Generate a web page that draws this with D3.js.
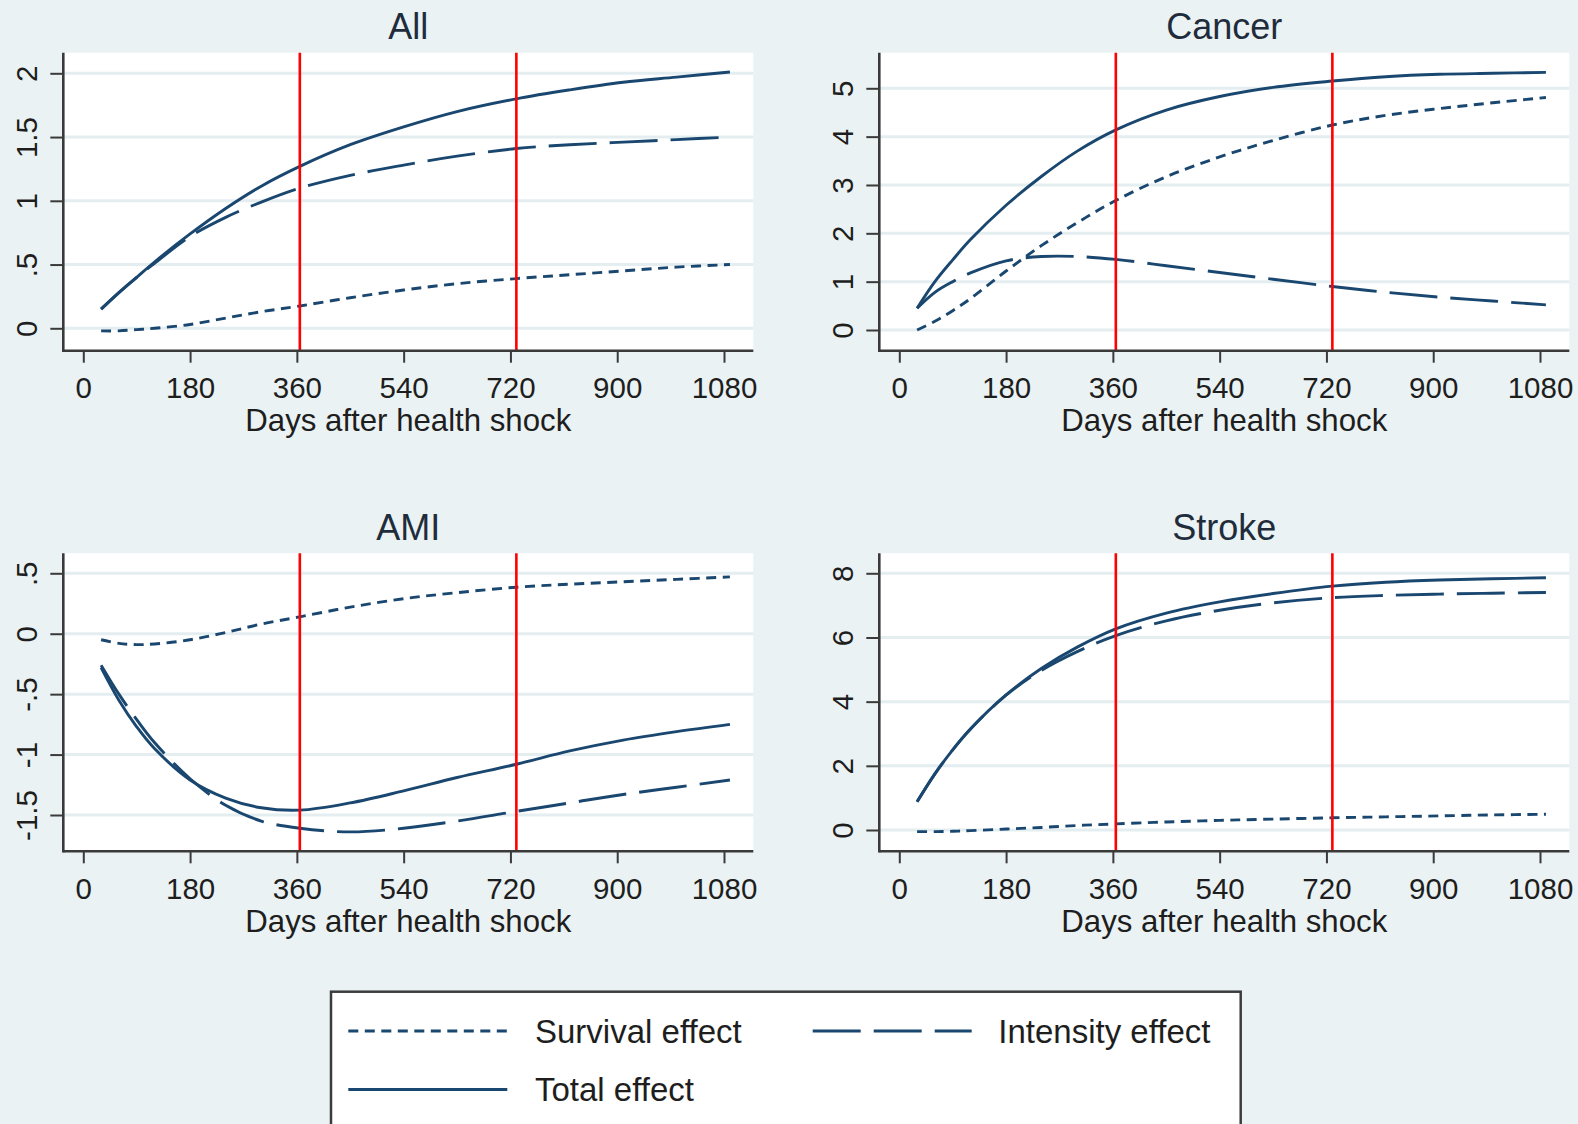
<!DOCTYPE html>
<html>
<head>
<meta charset="utf-8">
<script src="https://cdn.jsdelivr.net/npm/d3@7"></script>
<style>
  html, body { margin: 0; padding: 0; background: #eaf2f3; }
  svg { display: block; }
  text { font-family: "Liberation Sans", Arial, sans-serif; }
</style>
</head>
<body>
<svg id="chart" width="1578" height="1124"></svg>
<script>
// ---------- DATA ----------
const days = [30, 60, 90, 120, 180, 240, 300, 365, 450, 540, 630, 730, 820, 910, 1000, 1090];

const allSurvival  = [-0.02, -0.02, -0.01, 0.00, 0.03, 0.08, 0.13, 0.175, 0.24, 0.30, 0.35, 0.39, 0.42, 0.45, 0.48, 0.50];
const allIntensity = [0.15, 0.28, 0.40, 0.51, 0.72, 0.87, 0.99, 1.10, 1.20, 1.28, 1.35, 1.41, 1.44, 1.46, 1.48, 1.50];
const allTotal     = [0.15, 0.28, 0.40, 0.52, 0.74, 0.94, 1.115, 1.27, 1.44, 1.58, 1.70, 1.80, 1.87, 1.93, 1.97, 2.01];

const cancerSurvival  = [0.00, 0.18, 0.40, 0.65, 1.22, 1.75, 2.22, 2.68, 3.17, 3.58, 3.92, 4.24, 4.44, 4.58, 4.70, 4.81];
const cancerIntensity = [0.45, 0.78, 1.00, 1.18, 1.43, 1.52, 1.52, 1.46, 1.33, 1.19, 1.05, 0.90, 0.78, 0.68, 0.60, 0.52];
const cancerTotal     = [0.45, 1.00, 1.45, 1.87, 2.58, 3.18, 3.70, 4.14, 4.55, 4.83, 5.02, 5.15, 5.24, 5.29, 5.31, 5.33];

const amiSurvival  = [-0.05, -0.08, -0.09, -0.085, -0.05, 0.01, 0.08, 0.14, 0.22, 0.29, 0.34, 0.385, 0.41, 0.43, 0.45, 0.47];
const amiIntensity = [-0.26, -0.50, -0.71, -0.90, -1.20, -1.42, -1.55, -1.61, -1.64, -1.61, -1.55, -1.47, -1.40, -1.33, -1.27, -1.21];
const amiTotal     = [-0.28, -0.55, -0.77, -0.95, -1.21, -1.36, -1.44, -1.46, -1.40, -1.30, -1.19, -1.08, -0.97, -0.88, -0.81, -0.75];

const strokeSurvival  = [-0.05, -0.05, -0.04, -0.02, 0.03, 0.08, 0.14, 0.19, 0.25, 0.30, 0.34, 0.38, 0.41, 0.44, 0.47, 0.49];
const strokeIntensity = [0.88, 1.75, 2.50, 3.15, 4.20, 4.98, 5.56, 6.06, 6.52, 6.85, 7.08, 7.24, 7.31, 7.35, 7.38, 7.40];
const strokeTotal     = [0.88, 1.75, 2.50, 3.15, 4.21, 5.04, 5.70, 6.27, 6.76, 7.11, 7.37, 7.60, 7.72, 7.79, 7.83, 7.86];

const xTicks = [0, 180, 360, 540, 720, 900, 1080];
const refDays = [365, 730];

const allTicks    = [0, 0.5, 1, 1.5, 2];
const allTickLabels = ["0", ".5", "1", "1.5", "2"];
const cancerTicks = [0, 1, 2, 3, 4, 5];
const cancerTickLabels = ["0", "1", "2", "3", "4", "5"];
const amiTicks    = [-1.5, -1, -0.5, 0, 0.5];
const amiTickLabels = ["-1.5", "-1", "-.5", "0", ".5"];
const strokeTicks = [0, 2, 4, 6, 8];
const strokeTickLabels = ["0", "2", "4", "6", "8"];

const panelTitles = ["All", "Cancer", "AMI", "Stroke"];
const seriesNames = ["Survival effect", "Intensity effect", "Total effect"];
const xAxisTitle = "Days after health shock";

// ---------- STYLE / LAYOUT ----------
const BG = "#eaf2f3";
const LINE = "#1a476f";
const GRID = "#e4edf0";
const RED = "#ff0000";
const AXIS = "#3a3a3a";
const dashes = ["10,6.5", "48,13", null];

const svg = d3.select("#chart");
svg.append("rect").attr("width", 1578).attr("height", 1124).attr("fill", BG);

const panels = [
  { title: panelTitles[0], dx: 0,   dy: 0,     ticks: allTicks, labels: allTickLabels, yRef: [0, 2], yPx: [328.3, 73.3],
    series: [allSurvival, allIntensity, allTotal] },
  { title: panelTitles[1], dx: 816, dy: 0,     ticks: cancerTicks, labels: cancerTickLabels, yRef: [0, 5], yPx: [330, 88.3],
    series: [cancerSurvival, cancerIntensity, cancerTotal] },
  { title: panelTitles[2], dx: 0,   dy: 500.6, ticks: amiTicks, labels: amiTickLabels, yRef: [-1.5, 0.5], yPx: [815, 573.3],
    series: [amiSurvival, amiIntensity, amiTotal] },
  { title: panelTitles[3], dx: 816, dy: 500.6, ticks: strokeTicks, labels: strokeTickLabels, yRef: [0, 8], yPx: [830, 573.3],
    series: [strokeSurvival, strokeIntensity, strokeTotal] }
];

panels.forEach(p => {
  const left = 63.3 + p.dx, right = 753.3 + p.dx;
  const top = 52.7 + p.dy, bottom = 350.7 + p.dy;
  const x = d3.scaleLinear().domain([0, 1080]).range([83.3 + p.dx, 724 + p.dx]);
  const y = d3.scaleLinear().domain(p.yRef).range(p.yPx);

  const g = svg.append("g");
  g.append("rect").attr("x", left).attr("y", top).attr("width", right - left).attr("height", bottom - top).attr("fill", "#ffffff");

  // gridlines
  g.selectAll(".grid").data(p.ticks).enter().append("line")
    .attr("x1", left).attr("x2", right)
    .attr("y1", d => y(d)).attr("y2", d => y(d))
    .attr("stroke", GRID).attr("stroke-width", 3);

  // curves
  p.series.forEach((vals, i) => {
    const line = d3.line().x((d, k) => x(days[k])).y(d => y(d)).curve(d3.curveCatmullRom.alpha(0.5));
    g.append("path").datum(vals).attr("d", line)
      .attr("fill", "none").attr("stroke", LINE).attr("stroke-width", 2.9)
      .attr("stroke-dasharray", dashes[i]);
  });

  // reference lines
  g.selectAll(".ref").data(refDays).enter().append("line")
    .attr("x1", d => x(d)).attr("x2", d => x(d))
    .attr("y1", top).attr("y2", bottom)
    .attr("stroke", RED).attr("stroke-width", 2.6);

  // x axis
  const xa = g.append("g").attr("transform", `translate(0,${bottom})`)
    .call(d3.axisBottom(x).tickValues(xTicks).tickSize(12).tickSizeOuter(0).tickFormat(d3.format("d")));
  xa.select(".domain").remove();
  xa.selectAll(".tick line").attr("stroke", AXIS).attr("stroke-width", 2);
  xa.selectAll(".tick text").attr("y", 47.3).attr("dy", 0)
    .attr("font-size", 29.5).attr("fill", "#1e1e1e").attr("font-family", '"Liberation Sans", Arial, sans-serif');

  // y axis
  const ya = g.append("g").attr("transform", `translate(${left},0)`)
    .call(d3.axisLeft(y).tickValues(p.ticks).tickSize(13).tickSizeOuter(0).tickFormat((d, i) => p.labels[i]));
  ya.select(".domain").remove();
  ya.selectAll(".tick line").attr("stroke", AXIS).attr("stroke-width", 2);
  ya.selectAll(".tick text").attr("transform", "rotate(-90)").attr("x", 0).attr("y", -26.3).attr("dy", 0)
    .attr("text-anchor", "middle").attr("font-size", 29.5).attr("fill", "#1e1e1e")
    .attr("font-family", '"Liberation Sans", Arial, sans-serif');

  // axis lines
  g.append("line").attr("x1", left).attr("x2", right).attr("y1", bottom).attr("y2", bottom)
    .attr("stroke", AXIS).attr("stroke-width", 2.6);
  g.append("line").attr("x1", left).attr("x2", left).attr("y1", top).attr("y2", bottom + 1.3)
    .attr("stroke", AXIS).attr("stroke-width", 2.6);

  // titles
  g.append("text").attr("x", (left + right) / 2).attr("y", 39.3 + p.dy)
    .attr("text-anchor", "middle").attr("font-size", 36).attr("fill", "#1f2c3c").text(p.title);
  g.append("text").attr("x", (left + right) / 2).attr("y", 431 + p.dy)
    .attr("text-anchor", "middle").attr("font-size", 31.2).attr("fill", "#1e1e1e").text(xAxisTitle);
});

// ---------- LEGEND ----------
const lg = svg.append("g");
lg.append("rect").attr("x", 331).attr("y", 991.7).attr("width", 909.7).attr("height", 200)
  .attr("fill", "#ffffff").attr("stroke", "#3c3c3c").attr("stroke-width", 2.5);
const legendItems = [
  { name: seriesNames[0], dash: dashes[0], x: 348.3, ly: 1031, tx: 535 },
  { name: seriesNames[1], dash: dashes[1], x: 812.7, ly: 1031, tx: 998.3 },
  { name: seriesNames[2], dash: dashes[2], x: 348.3, ly: 1089.5, tx: 535 }
];
legendItems.forEach(it => {
  lg.append("line").attr("x1", it.x).attr("x2", it.x + 159).attr("y1", it.ly).attr("y2", it.ly)
    .attr("stroke", LINE).attr("stroke-width", 3.2).attr("stroke-dasharray", it.dash);
  lg.append("text").attr("x", it.tx).attr("y", it.ly + 11.7).attr("font-size", 33)
    .attr("fill", "#1e1e1e").text(it.name);
});
</script>
</body>
</html>
